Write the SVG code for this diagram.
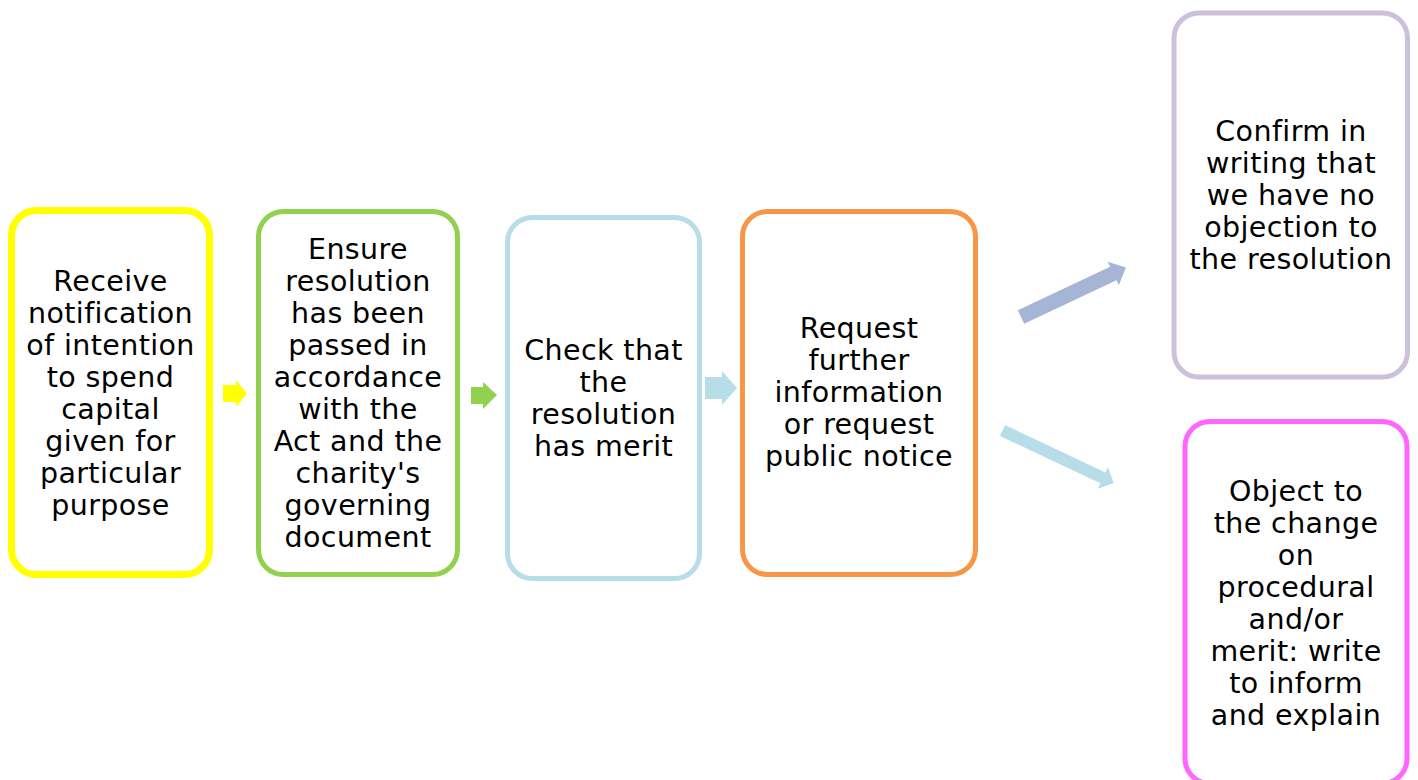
<svg xmlns="http://www.w3.org/2000/svg" width="1418" height="780" viewBox="0 0 1418 780">
<style>
.box{fill:#FFFFFF;stroke-width:5}
.t{font-family:"DejaVu Sans","Verdana",sans-serif;font-size:28.5px;letter-spacing:0.4px;fill:#000000;text-anchor:middle}
</style>
<rect width="1418" height="780" fill="#FFFFFF"/>
<g id="connectors">
<polygon points="223,385 236,385 236,380 247,393.5 236,407 236,402 223,402" fill="#FFFF00"/>
<polygon points="471,387 483,387 483,382 497,395 483,409 483,404 471,404" fill="#92D050"/>
<polygon points="705,377 722,377 722,371 737,388 722,405 722,399 705,399" fill="#B7DDE8"/>
<g transform="translate(1021,317) rotate(-25.2)">
<polygon points="0,-7.5 102,-7.5 102,-13 116,0 102,13 102,7.5 0,7.5" fill="#A6B5D6"/>
</g>
<g transform="translate(1002.5,430.5) rotate(25.3)">
<polygon points="0,-6 111,-6 111,-12 123,0 111,12 111,6 0,6" fill="#B7DDE8"/>
</g>
</g>
<g id="node1">
<rect class="box" x="11.5" y="210.5" width="198" height="364" rx="25" stroke="#FFFF00" style="stroke-width:7"/>
<text class="t"><tspan x="110.5" y="291">Receive</tspan><tspan x="110.5" y="323">notification</tspan><tspan x="110.5" y="355">of intention</tspan><tspan x="110.5" y="387">to spend</tspan><tspan x="110.5" y="419">capital</tspan><tspan x="110.5" y="451">given for</tspan><tspan x="110.5" y="483">particular</tspan><tspan x="110.5" y="515">purpose</tspan></text>
</g>
<g id="node2">
<rect class="box" x="258.5" y="211.5" width="199" height="363" rx="25" stroke="#92D050"/>
<text class="t"><tspan x="358" y="259">Ensure</tspan><tspan x="358" y="291">resolution</tspan><tspan x="358" y="323">has been</tspan><tspan x="358" y="355">passed in</tspan><tspan x="358" y="387">accordance</tspan><tspan x="358" y="419">with the</tspan><tspan x="358" y="451">Act and the</tspan><tspan x="358" y="483">charity's</tspan><tspan x="358" y="515">governing</tspan><tspan x="358" y="547">document</tspan></text>
</g>
<g id="node3">
<rect class="box" x="507.5" y="217.5" width="192" height="361" rx="25" stroke="#B7DDE8"/>
<text class="t"><tspan x="603.5" y="360">Check that</tspan><tspan x="603.5" y="392">the</tspan><tspan x="603.5" y="424">resolution</tspan><tspan x="603.5" y="456">has merit</tspan></text>
</g>
<g id="node4">
<rect class="box" x="742.5" y="211.5" width="233" height="363" rx="25" stroke="#F79646"/>
<text class="t"><tspan x="859" y="338">Request</tspan><tspan x="859" y="370">further</tspan><tspan x="859" y="402">information</tspan><tspan x="859" y="434">or request</tspan><tspan x="859" y="466">public notice</tspan></text>
</g>
<g id="node5">
<rect class="box" x="1174" y="13" width="233.5" height="364" rx="25" stroke="#CCC1DA"/>
<text class="t"><tspan x="1291" y="141">Confirm in</tspan><tspan x="1291" y="173">writing that</tspan><tspan x="1291" y="205">we have no</tspan><tspan x="1291" y="237">objection to</tspan><tspan x="1291" y="269">the resolution</tspan></text>
</g>
<g id="node6">
<rect class="box" x="1185" y="421.5" width="222" height="362" rx="25" stroke="#FF66FF"/>
<text class="t"><tspan x="1296" y="501">Object to</tspan><tspan x="1296" y="533">the change</tspan><tspan x="1296" y="565">on</tspan><tspan x="1296" y="597">procedural</tspan><tspan x="1296" y="629">and/or</tspan><tspan x="1296" y="661">merit: write</tspan><tspan x="1296" y="693">to inform</tspan><tspan x="1296" y="725">and explain</tspan></text>
</g>
</svg>
